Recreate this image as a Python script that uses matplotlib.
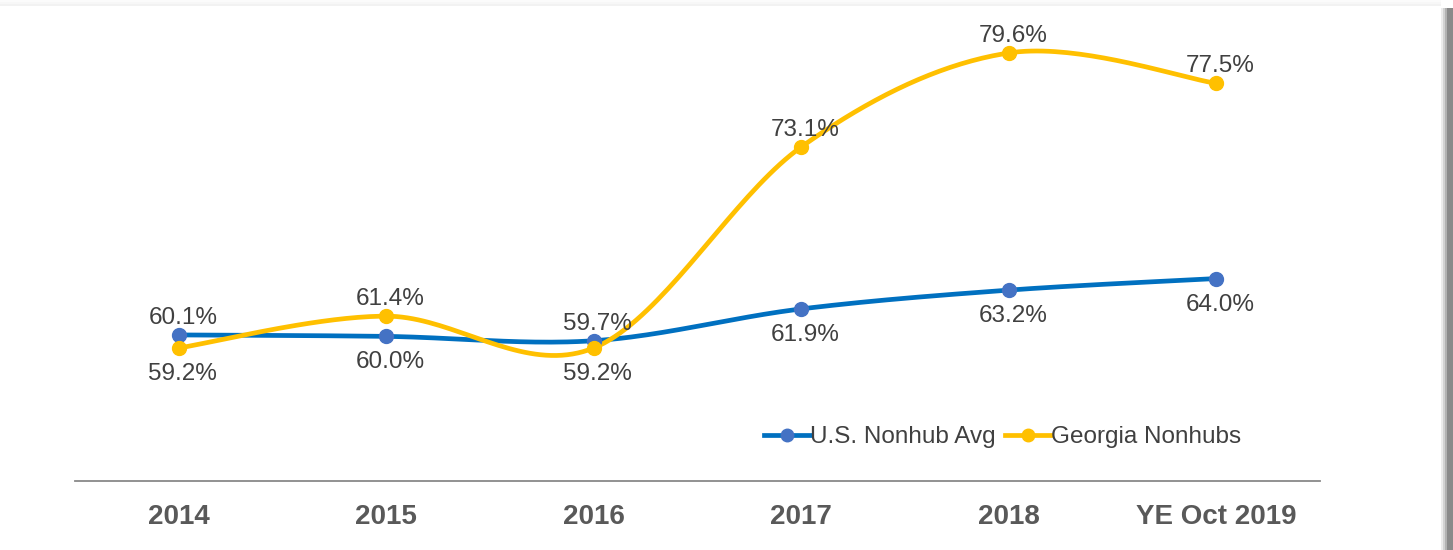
import numpy as np
import matplotlib
matplotlib.use("Agg")
import matplotlib.pyplot as plt
from matplotlib.patches import Rectangle

plt.rcParams['font.family'] = ['Liberation Sans', 'DejaVu Sans']

categories = ["2014", "2015", "2016", "2017", "2018", "YE Oct 2019"]
us_avg = [60.1, 60.0, 59.7, 61.9, 63.2, 64.0]
georgia = [59.2, 61.4, 59.2, 73.1, 79.6, 77.5]

# label above (+1) or below (-1) the point
us_pos = [1, -1, 1, -1, -1, -1]
ga_pos = [-1, 1, -1, 1, 1, 1]

BLUE_LINE = "#0070C0"
BLUE_MARK = "#4472C4"
GOLD = "#FFC000"
TXT = "#404040"


def smooth(xs, ys, n=40):
    # excel-style bezier smoothing
    p = np.column_stack([xs, ys]).astype(float)
    p = np.vstack([p[0], p, p[-1]])
    out = []
    for i in range(1, len(p) - 2):
        p0, p3 = p[i], p[i + 1]
        c1 = p0 + (p[i + 1] - p[i - 1]) / 6
        c2 = p3 - (p[i + 2] - p[i]) / 6
        t = np.linspace(0, 1, n)[:, None]
        seg = (1 - t) ** 3 * p0 + 3 * (1 - t) ** 2 * t * c1 + 3 * (1 - t) * t ** 2 * c2 + t ** 3 * p3
        out.append(seg if i == 1 else seg[1:])
    out = np.vstack(out)
    return out[:, 0], out[:, 1]


fig = plt.figure(figsize=(14.53, 5.5), dpi=100)
ax = fig.add_axes([75 / 1453, 69 / 550, 1245 / 1453, 471 / 550])

x = np.arange(len(categories))
for vals, lc, mc, pos, lab in [(us_avg, BLUE_LINE, BLUE_MARK, us_pos, "U.S. Nonhub Avg"),
                               (georgia, GOLD, GOLD, ga_pos, "Georgia Nonhubs")]:
    sx, sy = smooth(x, vals)
    ax.plot(sx, sy, color=lc, lw=3.4, solid_capstyle='round', zorder=2)
    ax.plot(x, vals, 'o', color=mc, ms=10, zorder=3)
    ax.plot([], [], color=lc, lw=3.4, marker='o', ms=9, mfc=mc, mec=mc, label=lab)
    for xi, v, p in zip(x, vals, pos):
        ax.annotate(f"{v:.1f}%", (xi, v), xytext=(4, 17 if p > 0 else -26),
                    textcoords='offset pixels', ha='center', va='center',
                    fontsize=17.5, color=TXT)

ax.set_xlim(-0.5, 5.5)
ax.set_ylim(50, 82.57)
ax.set_xticks(x)
ax.set_xticklabels(categories, fontsize=20, fontweight='bold', color="#595959")
ax.tick_params(axis='x', length=0, pad=16.5)
ax.set_yticks([])
for s in ['top', 'right', 'left']:
    ax.spines[s].set_visible(False)
ax.spines['bottom'].set_color("#898989")
ax.spines['bottom'].set_linewidth(1.3)

ax.legend(loc='center', bbox_to_anchor=(0.745, 0.093), ncol=2, frameon=False,
          fontsize=17.5, labelcolor=TXT, handlelength=1.9, handletextpad=0.0,
          columnspacing=0.4)

# frame shadow on the right and top
for i, a in enumerate([0.15, 0.35, 0.6]):
    fig.patches.append(Rectangle(((1441 + i * 2) / 1453, 0), 2 / 1453, 1 - 8 / 550,
                                 transform=fig.transFigure, color="#808080", alpha=a, lw=0))
fig.patches.append(Rectangle((1447 / 1453, 0), 6 / 1453, 1 - 8 / 550,
                             transform=fig.transFigure, color="#8a8a8a", lw=0))
for i, a in enumerate([0.03, 0.06, 0.1]):
    fig.patches.append(Rectangle((0, 1 - (i + 1) * 2 / 550), 1441 / 1453, 2 / 550,
                                 transform=fig.transFigure, color="#808080", alpha=a, lw=0))

fig.savefig("out.png", dpi=100)
